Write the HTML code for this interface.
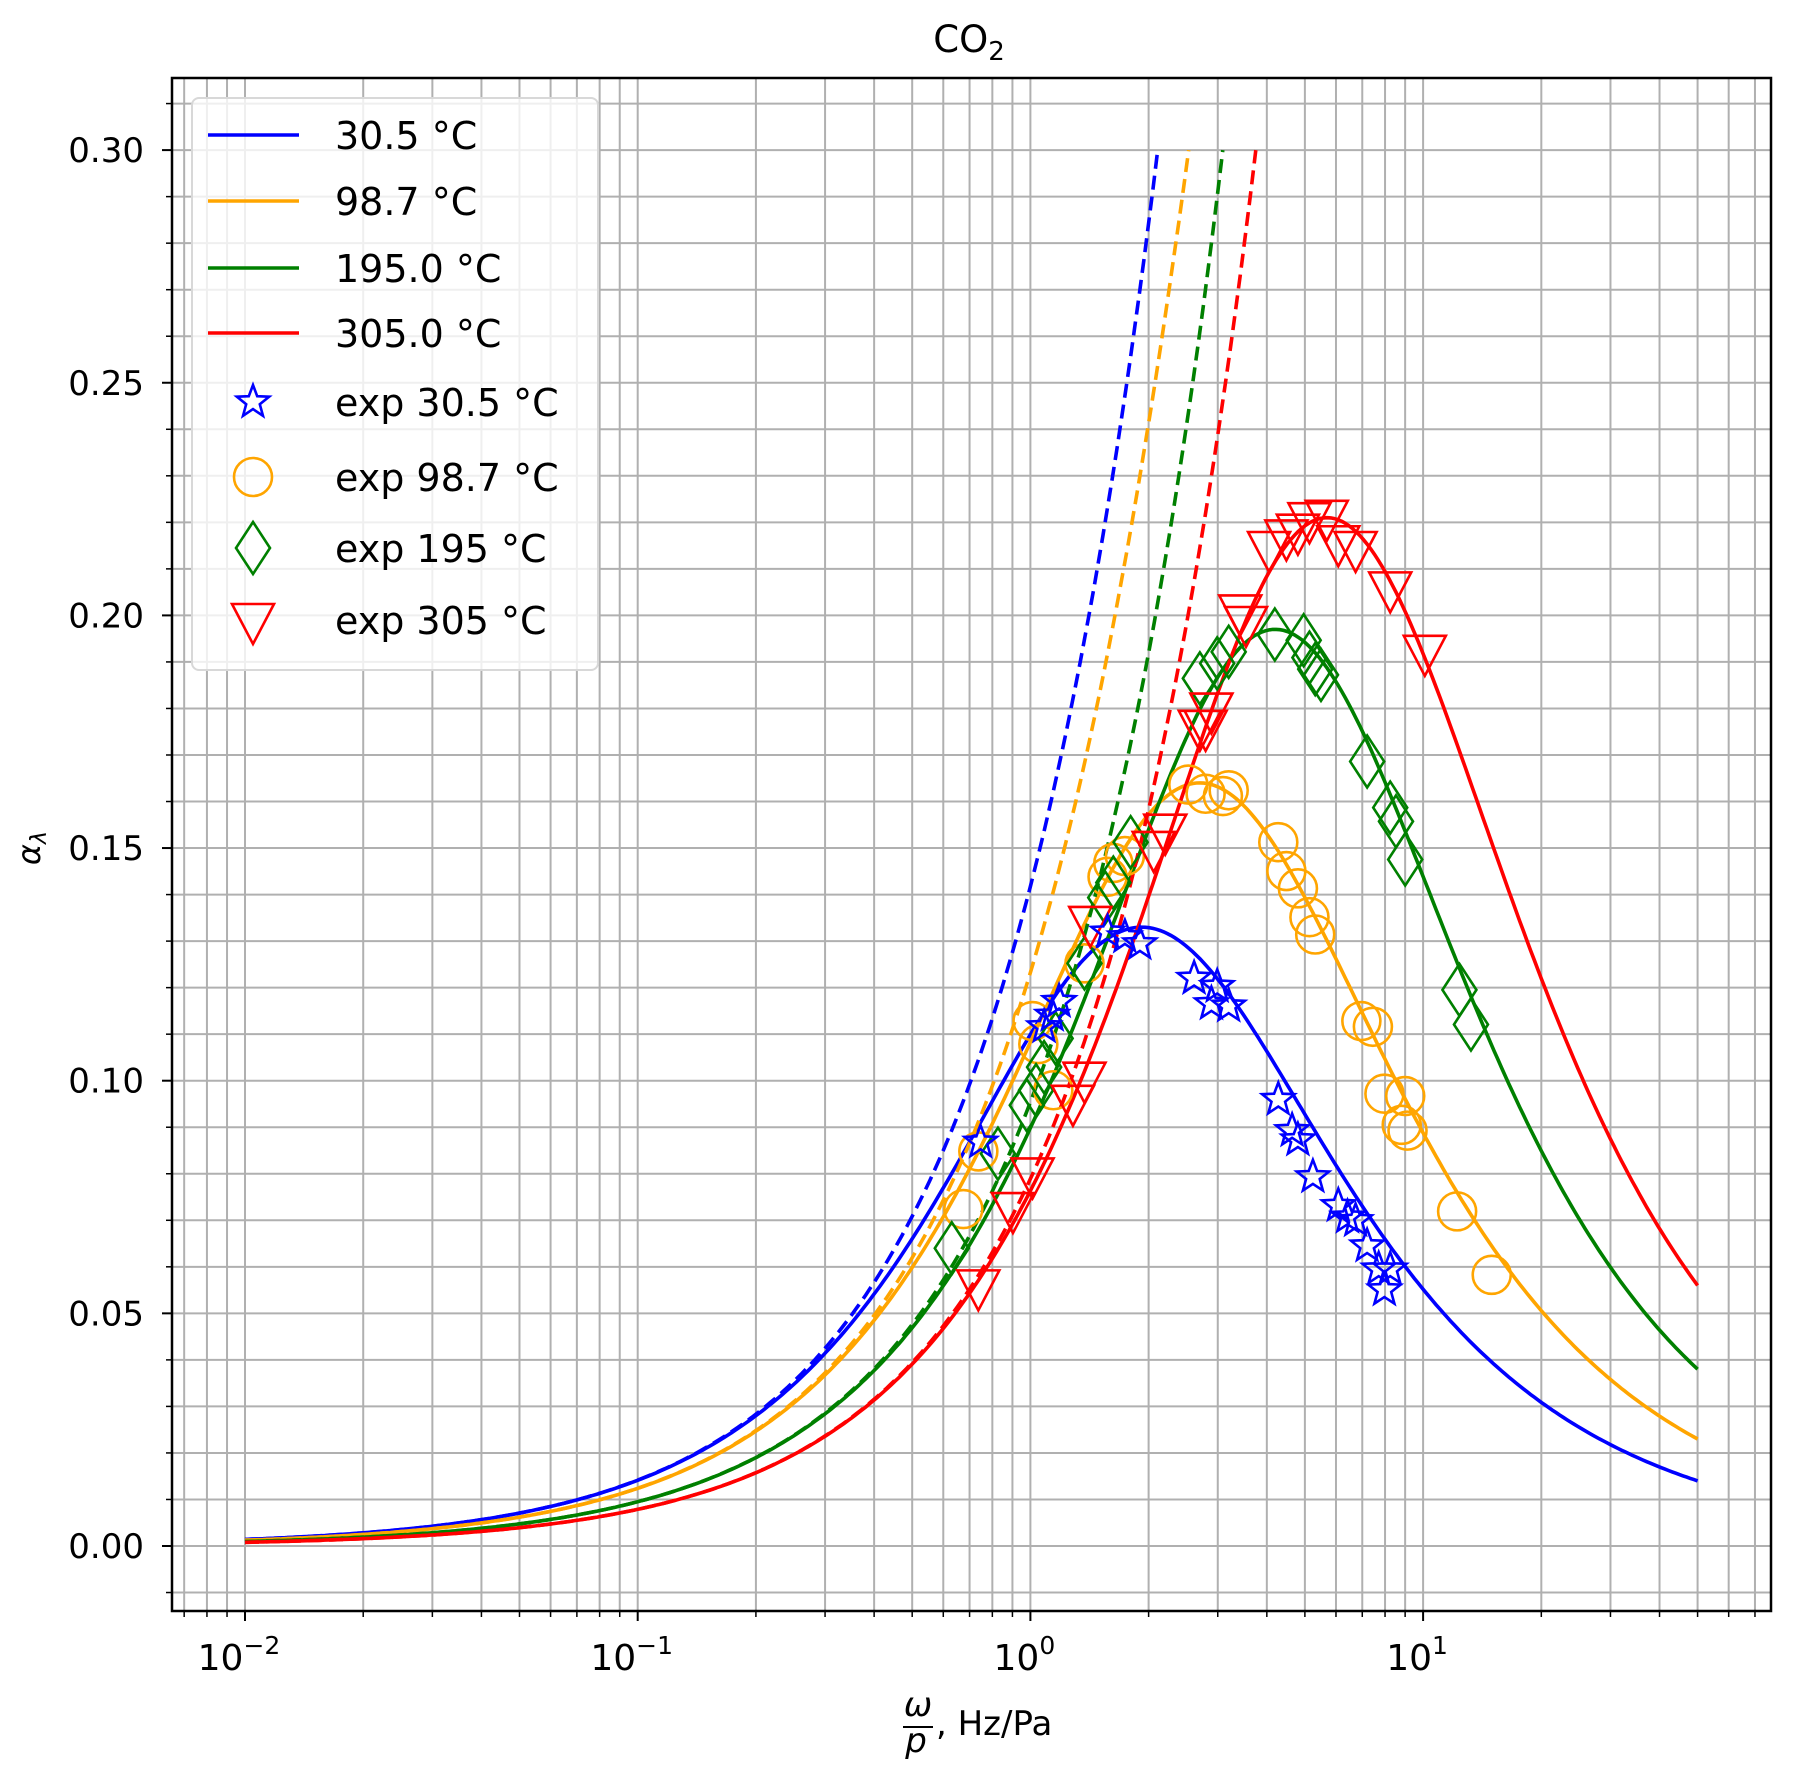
<!DOCTYPE html>
<html><head><meta charset="utf-8">
<style>
html,body{margin:0;padding:0;background:#fff;}
svg{display:block;font-family:"DejaVu Sans","Liberation Sans",sans-serif;}
</style></head>
<body>
<svg id="s" width="1809" height="1771" viewBox="0 0 1809 1771" xmlns="http://www.w3.org/2000/svg">
<rect width="1809" height="1771" fill="#fff"/>
<g id="grid"></g>
<g id="curves"></g>
<g id="marks"></g>
<g id="axes"></g>
<g id="legend"></g>
<text x="969" y="52" font-size="37" text-anchor="middle">CO<tspan font-size="26" dy="8">2</tspan></text>
<g font-size="34">
<text x="918" y="1716" text-anchor="middle" font-style="italic">ω</text>
<line x1="903" y1="1727" x2="933" y2="1727" stroke="#000" stroke-width="2"/>
<text x="916" y="1752" text-anchor="middle" font-style="italic">p</text>
<text x="936" y="1735">, Hz/Pa</text>
</g>
<text transform="translate(40,848) rotate(-90)" font-size="32" text-anchor="middle" font-style="italic">α<tspan font-size="22" dy="6">λ</tspan></text>
</svg>
<script>
const NS="http://www.w3.org/2000/svg";
const L=172,R=1771,T=78,B=1611;
const X=f=>245+392.7*(Math.log10(f)+2);
const Y=v=>1546-v*4653;
function el(p,t,a,txt){const e=document.createElementNS(NS,t);for(const k in a)e.setAttribute(k,a[k]);if(txt!==undefined)e.textContent=txt;document.getElementById(p).appendChild(e);return e;}
for(let d=-3;d<=1;d++)for(let m=1;m<=9;m++){const f=m*Math.pow(10,d);const x=X(f);if(x<L||x>R)continue;
 el("grid","line",{x1:x,y1:T,x2:x,y2:B,stroke:"#b0b0b0","stroke-width":2});
 el("axes","line",{x1:x,y1:B,x2:x,y2:B+(m==1?10:6),stroke:"#000","stroke-width":m==1?2:1.5});}
for(let i=-1;i<=31;i++){const v=i/100;const y=Y(v);if(y<T||y>B)continue;
 el("grid","line",{x1:L,y1:y,x2:R,y2:y,stroke:"#b0b0b0","stroke-width":2});
 const maj=i%5==0;
 el("axes","line",{x1:L,y1:y,x2:L-(maj?10:6),y2:y,stroke:"#000","stroke-width":maj?2:1.5});
 if(maj&&i>=0)el("axes","text",{x:144,y:y+12,"font-size":34,"text-anchor":"end"},v.toFixed(2));}
el("axes","rect",{x:L,y:T,width:R-L,height:B-T,fill:"none",stroke:"#000","stroke-width":2.5});
[[-2,"−2"],[-1,"−1"],[0,"0"],[1,"1"]].forEach(([d,s])=>{const t=el("axes","text",{x:X(Math.pow(10,d))-6,y:1670,"font-size":36,"text-anchor":"middle"},"10");
 const ts=document.createElementNS(NS,"tspan");ts.setAttribute("font-size","25");ts.setAttribute("dy","-16");ts.textContent=s;t.appendChild(ts);});
const C=[["#0000ff",0.133,1.92,0.014,2.11],["#ffa500",0.164,2.7,0.023,2.53],["#008000",0.197,4.2,0.038,3.09],["#ff0000",0.221,5.69,0.056,3.75]];
function model(A,fp,aend){
 function mk(r){const xm=1/Math.sqrt(2*r-1);const h=x=>x/Math.pow(1+x*x,r);const hm=h(xm);return f=>A*h(f/fp*xm)/hm;}
 let lo=0.6,hi=1.0;for(let k=0;k<60;k++){const r=(lo+hi)/2;const v=mk(r)(50);if(v>aend)lo=r;else hi=r;}
 return mk((lo+hi)/2);}
C.forEach(([c,A,fp,ae,fe])=>{const g=model(A,fp,ae);let d="";
 for(let i=0;i<=400;i++){const lf=-2+i*(Math.log10(50)+2)/400;const f=Math.pow(10,lf);d+=(i?"L":"M")+X(f).toFixed(1)+","+Y(g(f)).toFixed(1);}
 el("curves","path",{d:d,fill:"none",stroke:c,"stroke-width":3.6});
 const s=g(0.01)/0.01;const cc=(0.30/(s*fe)-1)/(fe*fe);
 let d2="";for(let i=0;i<=200;i++){const lf=-2+i*(Math.log10(fe)+2)/200;const f=Math.pow(10,lf);
  const v=s*f*(1+cc*f*f);d2+=(i?"L":"M")+X(f).toFixed(1)+","+Y(v).toFixed(1);}
 el("curves","path",{d:d2,fill:"none",stroke:c,"stroke-width":3.6,"stroke-dasharray":"14,7"});});
const S=1.1537;
function star(x,y,r,c,g){let p="";for(let i=0;i<10;i++){const a=-Math.PI/2+i*Math.PI/5;const rr=i%2?r*0.42:r;p+=(x+rr*Math.cos(a)).toFixed(1)+","+(y+rr*Math.sin(a)).toFixed(1)+" ";}
 el(g,"polygon",{points:p,fill:"none",stroke:c,"stroke-width":2.6});}
function circ(x,y,c,g){el(g,"circle",{cx:x,cy:y,r:19,fill:"none",stroke:c,"stroke-width":2.6});}
function diam(x,y,c,g){el(g,"polygon",{points:`${x},${y-26} ${x+17},${y} ${x},${y+26} ${x-17},${y}`,fill:"none",stroke:c,"stroke-width":2.6});}
function tri(x,y,c,g){el(g,"polygon",{points:`${x-21},${y-16} ${x+21},${y-16} ${x},${y+24}`,fill:"none",stroke:c,"stroke-width":2.6});}
const blue=[[850,990],[918,868],[912,880],[905,890],[960,808],[975,812],[988,818],[1035,848],[1055,855],[1050,870],[1065,872],[1108,953],[1120,980],[1125,988],[1138,1020],[1160,1045],[1168,1055],[1175,1058],[1185,1080],[1195,1100],[1200,1118],[1205,1100]];
const orng=[[848,998],[835,1048],[895,885],[900,905],[913,945],[940,835],[960,760],[965,748],[975,742],[1030,680],[1045,688],[1060,690],[1065,685],[1108,730],[1115,755],[1125,770],[1135,795],[1140,810],[1180,885],[1190,890],[1200,948],[1218,950],[1215,975],[1220,980],[1263,1050],[1293,1105]];
const grn=[[825,1082],[865,1000],[890,958],[898,945],[905,925],[915,900],[940,835],[958,778],[965,765],[980,730],[1040,588],[1055,575],[1065,565],[1105,550],[1130,555],[1135,570],[1140,580],[1145,585],[1185,660],[1205,700],[1210,712],[1218,745],[1265,858],[1275,888]];
const red=[[848,1115],[878,1048],[895,1018],[930,955],[940,935],[945,800],[1000,735],[1010,720],[1040,630],[1045,630],[1050,615],[1075,530],[1080,540],[1100,475],[1115,465],[1125,460],[1135,450],[1150,448],[1160,470],[1175,475],[1205,510],[1235,565]];
orng.forEach(([x,y])=>circ(x*S,y*S,"#ffa500","marks"));
grn.forEach(([x,y])=>diam(x*S,y*S,"#008000","marks"));
red.forEach(([x,y])=>tri(x*S,y*S,"#ff0000","marks"));
blue.forEach(([x,y])=>star(x*S,y*S,17,"#0000ff","marks"));
el("legend","rect",{x:192,y:98,width:406,height:572,rx:7,fill:"#fff","fill-opacity":0.8,stroke:"#d8d8d8","stroke-width":2});
const lab=["30.5 °C","98.7 °C","195.0 °C","305.0 °C","exp 30.5 °C","exp 98.7 °C","exp 195 °C","exp 305 °C"];
const ly=[135,201,268,333,402,477,548,620];
const col=["#0000ff","#ffa500","#008000","#ff0000"];
for(let i=0;i<4;i++)el("legend","line",{x1:208,y1:ly[i],x2:299,y2:ly[i],stroke:col[i],"stroke-width":3.6});
star(253,ly[4],17,"#0000ff","legend");circ(253,ly[5],"#ffa500","legend");diam(253,ly[6],"#008000","legend");tri(253,ly[7],"#ff0000","legend");
lab.forEach((t,i)=>el("legend","text",{x:335,y:ly[i]+14,"font-size":38},t));
</script>
</body></html>
